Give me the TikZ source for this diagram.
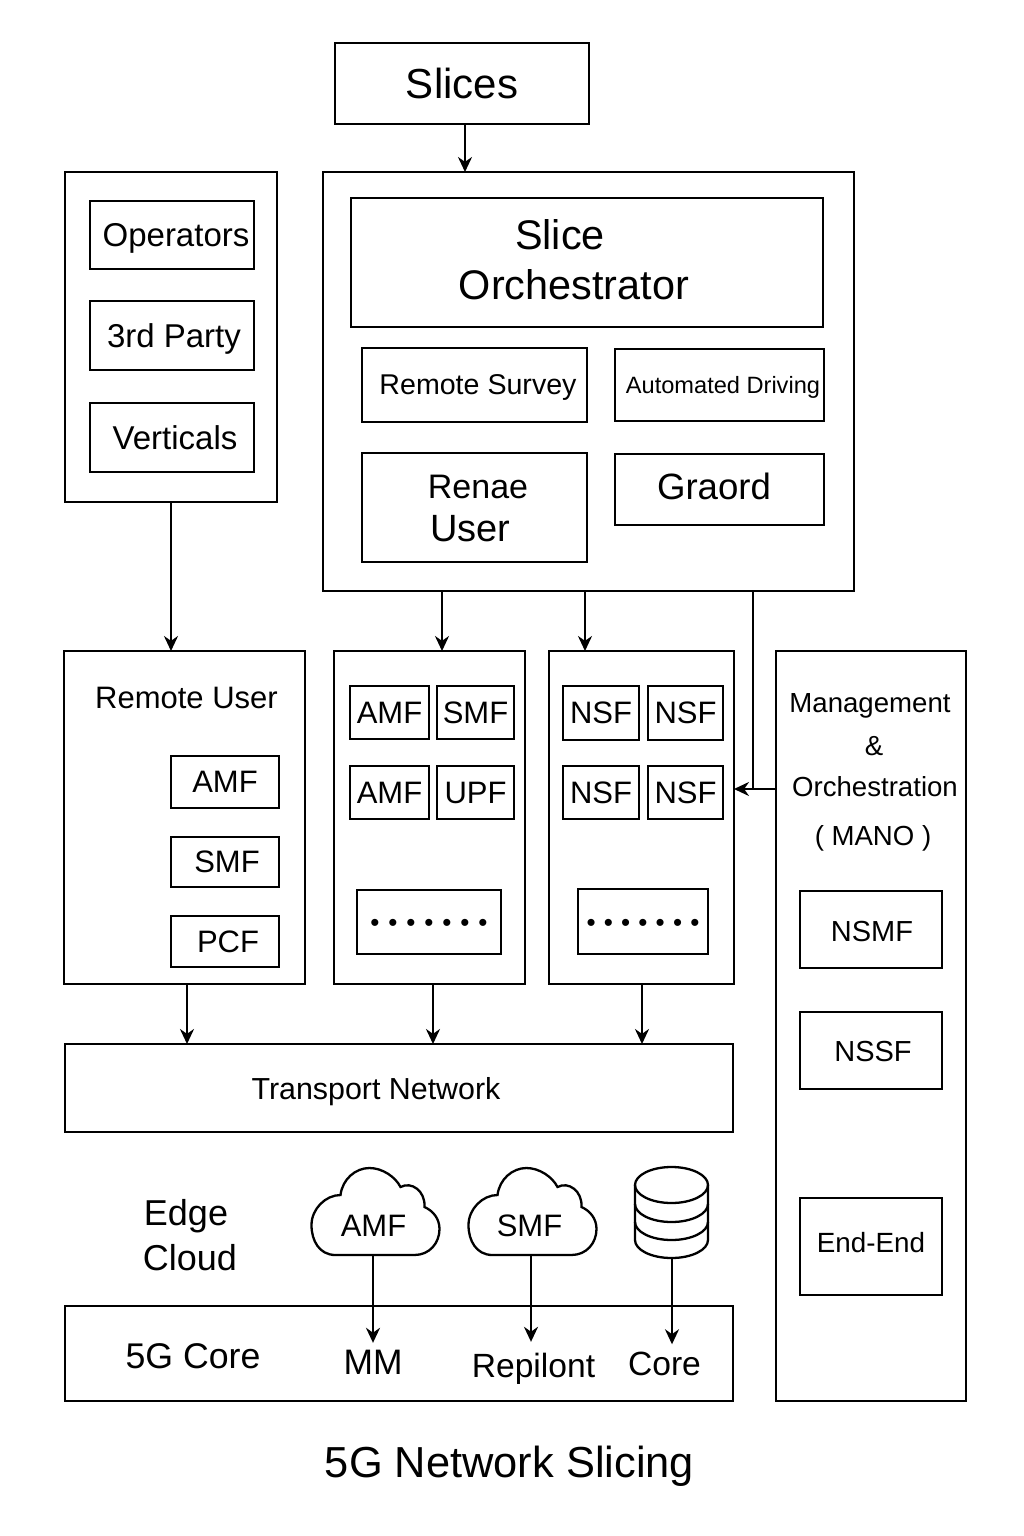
\documentclass[tikz,border=0pt]{standalone}
\usepackage{fontspec}
\setmainfont{Liberation Sans}
\usepackage{xcolor}
\usepackage{tikz}
\usetikzlibrary{arrows.meta, positioning}

\newcommand{\pxfont}[1]{\fontsize{#1}{#1}\selectfont}
\newcommand{\dotrow}[1]{\rule{0pt}{.74em}•\kern#1•\kern#1•\kern#1•\kern#1•\kern#1•\kern#1•}

\begin{document}
\begin{tikzpicture}[
  x=1pt, y=-1pt,
  outer/.style={draw, line width=2.3pt, inner sep=0pt, outer sep=0pt},
  box/.style={draw, line width=2.3pt, inner sep=0pt, outer sep=0pt, text depth=0pt, font=\pxfont{31}},
  txt/.style={inner sep=0pt, outer sep=0pt, text depth=0pt, font=\pxfont{31}},
  lbl/.style={inner xsep=0pt, outer sep=0pt, text depth=0pt, font=\pxfont{33.6}},
  line/.style={line width=2.3pt},
  arr/.style={-{Stealth[length=15pt, width=14pt]}, line width=2.3pt},
  cloudicon/.pic={
    \draw[line] (-40,44) .. controls (-56,44) and (-64,30) .. (-64,14)
      .. controls (-64,-2) and (-50,-16) .. (-35,-16)
      .. controls (-33,-32) and (-20,-43) .. (-6,-43)
      .. controls (7,-43) and (20,-34) .. (25,-24)
      .. controls (36,-30) and (50,-20) .. (49,-4)
      .. controls (58,0) and (64,8) .. (64,18)
      .. controls (64,32) and (54,44) .. (39,44) -- cycle;
    \coordinate (-bot) at (0,44);
  },
  dbicon/.pic={
    \draw[line] (0,0) ellipse (36.5 and 18);
    \draw[line] (-36.5,0) -- (-36.5,55) arc[start angle=180, end angle=360, x radius=36.5, y radius=-18] -- (36.5,0);
    \draw[line] (-36.5,19) arc[start angle=180, end angle=360, x radius=36.5, y radius=-18];
    \draw[line] (-36.5,37) arc[start angle=180, end angle=360, x radius=36.5, y radius=-18];
    \coordinate (-bot) at (0,73);
  }
]
  \useasboundingbox (0,0) rectangle (1024,1536);

  \node[box, minimum width=254pt, minimum height=81pt, font=\pxfont{42}] (slices) at (462,83.5) {Slices};

  % left group
  \node[outer, minimum width=212pt, minimum height=330pt] (users) at (171,337) {};
  \node[box, minimum width=164pt, minimum height=68pt, font=\pxfont{33}] (oper) at (172,235) {\hspace*{8pt}Operators};
  \node[box, minimum width=164pt, minimum height=69pt, font=\pxfont{33}, below=32pt of oper] (third) {\hspace*{4pt}3rd Party};
  \node[box, minimum width=164pt, minimum height=69pt, font=\pxfont{33}, below=33pt of third] (vert) {\hspace*{6pt}Verticals};

  % orchestrator group
  \node[outer, minimum width=531pt, minimum height=419pt] (orch) at (588.5,381.5) {};
  \node[outer, minimum width=472pt, minimum height=129pt] (sliceorch) at (587,262.5) {};
  \node[txt, font=\pxfont{41.4}] (slicet) at (560,234.5) {Slice};
  \node[txt, font=\pxfont{41.4}] (orcht) at (574,284) {Orchestrator};
  \node[box, minimum width=225pt, minimum height=74pt, font=\pxfont{28.6}] (survey) at (474.5,385) {\hspace*{7pt}Remote Survey};
  \node[box, minimum width=209pt, minimum height=72pt, font=\pxfont{23.6}, right=28pt of survey] (driving) {\hspace*{7pt}Automated Driving};
  \node[outer, minimum width=225pt, minimum height=109pt, below=31pt of survey] (renae) {};
  \node[txt, font=\pxfont{34}] (renaet) at (478,487) {Renae};
  \node[txt, font=\pxfont{38}] (usert) at (470.5,528) {User};
  \node[box, minimum width=209pt, minimum height=71pt, font=\pxfont{36.6}, below=33pt of driving] (graord) {\hspace*{-11pt}\raisebox{6pt}{Graord}};

  % remote user group
  \node[outer, minimum width=241pt, minimum height=333pt] (remote) at (184.5,817.5) {};
  \node[txt] (remotet) at (186.5,698) {Remote User};
  \node[box, minimum width=108pt, minimum height=52pt] (ramf) at (225,782) {AMF};
  \node[box, minimum width=108pt, minimum height=50pt, below=29pt of ramf] (rsmf) {\hspace*{4pt}SMF};
  \node[box, minimum width=108pt, minimum height=51pt, below=29pt of rsmf] (rpcf) {\hspace*{6pt}PCF};

  % middle group
  \node[outer, minimum width=191pt, minimum height=333pt] (midbox) at (429.5,817.5) {};
  \node[box, minimum width=79pt, minimum height=53pt] (amfa) at (389.5,712.5) {AMF};
  \node[box, minimum width=77pt, minimum height=53pt, right=8pt of amfa] (smfa) {SMF};
  \node[box, minimum width=79pt, minimum height=53pt, below=27pt of amfa] (amfb) {AMF};
  \node[box, minimum width=77pt, minimum height=53pt, right=8pt of amfb] (upfa) {UPF};
  \node[outer, minimum width=144pt, minimum height=64pt, font=\pxfont{26}] (dotsa) at (429,922) {\dotrow{8.9pt}};

  % right group
  \node[outer, minimum width=185pt, minimum height=333pt] (rightbox) at (641.5,817.5) {};
  \node[box, minimum width=76pt, minimum height=54pt] (nsfa) at (601,713) {NSF};
  \node[box, minimum width=75pt, minimum height=54pt, right=9pt of nsfa] (nsfb) {NSF};
  \node[box, minimum width=76pt, minimum height=53pt, below=26pt of nsfa] (nsfc) {NSF};
  \node[box, minimum width=75pt, minimum height=53pt, right=9pt of nsfc] (nsfd) {NSF};
  \node[outer, minimum width=130pt, minimum height=65pt, font=\pxfont{26}] (dotsb) at (643,921.5) {\dotrow{8.2pt}};

  % mano
  \node[outer, minimum width=190pt, minimum height=750pt] (mano) at (871,1026) {};
  \node[txt, font=\pxfont{27.6}] (manoa) at (870,703) {Management};
  \node[txt, font=\pxfont{27.6}] (manob) at (874,746) {\&};
  \node[txt, font=\pxfont{27.6}] (manoc) at (875,786) {Orchestration};
  \node[txt, font=\pxfont{27.6}] (manod) at (873,835) {( MANO )};
  \node[box, minimum width=142pt, minimum height=77pt, font=\pxfont{29}] (nsmf) at (871,929.5) {\hspace*{2pt}\raisebox{-4pt}{NSMF}};
  \node[box, minimum width=142pt, minimum height=77pt, font=\pxfont{29}, below=44pt of nsmf] (nssf) {\hspace*{4pt}\raisebox{-1pt}{NSSF}};
  \node[box, minimum width=142pt, minimum height=97pt, font=\pxfont{27.8}] (endend) at (871,1246.5) {\raisebox{8pt}{End-End}};

  % bottom
  \node[box, minimum width=668pt, minimum height=88pt, font=\pxfont{30.4}] (transport) at (399,1088) {\hspace*{-46pt}Transport Network};
  \node[txt, font=\pxfont{36}] (edge) at (186,1212) {Edge};
  \node[txt, font=\pxfont{36}] (cloud) at (190,1257) {Cloud};
  \pic (cloudamf) at (375.5,1211) {cloudicon};
  \node[txt] (cloudamft) at (373.5,1226) {AMF};
  \pic (cloudsmf) at (532.5,1211) {cloudicon};
  \node[txt] (cloudsmft) at (529.5,1226) {SMF};
  \pic (dbase) at (671.5,1185) {dbicon};
  \node[outer, minimum width=668pt, minimum height=95pt] (core) at (399,1353.5) {};
  \node[txt, font=\pxfont{35.7}] (coret) at (193,1356) {5G Core};
  \node[lbl, inner ysep=7pt, font=\pxfont{35.4}] (mm) at (373,1362) {MM};
  \node[lbl, inner ysep=11pt] (repilont) at (533.5,1365) {Repilont};
  \node[lbl, inner ysep=8pt] (corelbl) at (664.5,1364) {Core};
  \node[txt, font=\pxfont{43.4}] (title) at (509.5,1462) {5G Network Slicing};

  \coordinate (manoin) at (753,789);

  \draw[arr] ([xshift=3pt]slices.south) -- ([xshift=3pt]slices.south |- orch.north);
  \draw[arr] (users.south) -- (users.south |- remote.north);
  \draw[arr] ([xshift=12.5pt]midbox.north |- orch.south) -- ([xshift=12.5pt]midbox.north);
  \draw[arr] ([xshift=-56.5pt]rightbox.north |- orch.south) -- ([xshift=-56.5pt]rightbox.north);
  \draw[line] (manoin |- orch.south) -- (manoin);
  \draw[arr] (manoin -| mano.west) -- (manoin -| rightbox.east);
  \draw[arr] ([xshift=2.5pt]remote.south) -- ([xshift=2.5pt]remote.south |- transport.north);
  \draw[arr] ([xshift=3.5pt]midbox.south) -- ([xshift=3.5pt]midbox.south |- transport.north);
  \draw[arr] ([xshift=.5pt]rightbox.south) -- ([xshift=.5pt]rightbox.south |- transport.north);
  \draw[arr] ([xshift=-2.5pt]cloudamf-bot) -- ([xshift=-2.5pt]cloudamf-bot |- mm.north);
  \draw[arr] ([xshift=-1.5pt]cloudsmf-bot) -- ([xshift=-1.5pt]cloudsmf-bot |- repilont.north);
  \draw[arr] ([xshift=.5pt]dbase-bot) -- ([xshift=.5pt]dbase-bot |- corelbl.north);
\end{tikzpicture}
\end{document}
